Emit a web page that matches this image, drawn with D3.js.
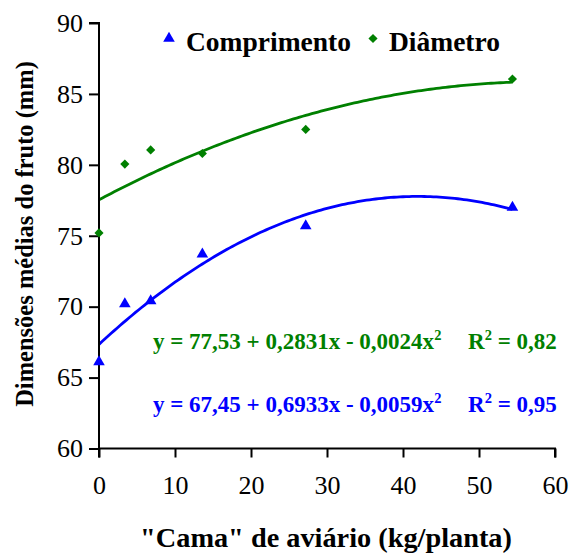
<!DOCTYPE html>
<html><head><meta charset="utf-8">
<script src="https://cdn.jsdelivr.net/npm/d3@7"></script>
</head><body><svg id="c" width="571" height="556"></svg>
<script>
const doses = [0, 3.4, 6.8, 13.6, 27.2, 54.4];
const comprimento = [66.1, 70.2, 70.4, 73.7, 75.7, 77.0];
const diametro = [75.2, 80.05, 81.05, 80.8, 82.5, 86.05];
const xTicks = [0, 10, 20, 30, 40, 50, 60];
const yTicks = [60, 65, 70, 75, 80, 85, 90];
const seriesNames = ["Comprimento", "Diâmetro"];
const eqGreen = ["y = 77,53 + 0,2831x - 0,0024x", "R", " = 0,82"];
const eqBlue = ["y = 67,45 + 0,6933x - 0,0059x", "R", " = 0,95"];

const FONT = "Liberation Serif";
document.body.style.margin = "0";
const svg = d3.select("#c").style("font-family", FONT);
const x = d3.scaleLinear().domain([0, 60]).range([99, 555]);
const y = d3.scaleLinear().domain([60, 90]).range([448.5, 23]);
const BLUE = "#0000ff", GREEN = "#008000";

function quadFit(xs, ys) {
  let S = [0,0,0,0,0], T = [0,0,0];
  xs.forEach((xi, i) => { for (let k=0;k<5;k++) S[k]+=Math.pow(xi,k); for (let k=0;k<3;k++) T[k]+=ys[i]*Math.pow(xi,k); });
  const A = [[S[0],S[1],S[2],T[0]],[S[1],S[2],S[3],T[1]],[S[2],S[3],S[4],T[2]]];
  for (let i=0;i<3;i++){ for (let j=i+1;j<3;j++){ const f=A[j][i]/A[i][i]; for(let k=i;k<4;k++) A[j][k]-=f*A[i][k]; } }
  const c=[0,0,0];
  for (let i=2;i>=0;i--){ let s=A[i][3]; for(let k=i+1;k<3;k++) s-=A[i][k]*c[k]; c[i]=s/A[i][i]; }
  return c;
}
function curve(ys, color) {
  const c = quadFit(doses, ys);
  const pts = d3.range(0, 54.4001, 0.4).map(v => [v, c[0]+c[1]*v+c[2]*v*v]);
  svg.append("path").datum(pts)
    .attr("d", d3.line().x(d => x(d[0])).y(d => y(d[1])))
    .attr("fill", "none").attr("stroke", color).attr("stroke-width", 2.8);
}
curve(diametro, GREEN);
curve(comprimento, BLUE);

const ya = svg.append("g").attr("transform", "translate(99,0)")
  .call(d3.axisLeft(y).tickValues(yTicks).tickSize(10).tickPadding(6).tickFormat(d3.format("d")));
const xa = svg.append("g").attr("transform", "translate(0,448.5)")
  .call(d3.axisBottom(x).tickValues(xTicks).tickSize(9).tickPadding(18).tickFormat(d3.format("d")));
[ya, xa].forEach(g => {
  g.attr("font-family", null).attr("font-size", null);
  g.select(".domain").attr("stroke", "#000").attr("stroke-width", 2);
  g.selectAll(".tick line").attr("stroke", "#000").attr("stroke-width", 2);
  g.selectAll("text").style("font-family", FONT).attr("font-size", 26).attr("fill", "#000");
});
ya.select(".domain").attr("d", "M-0,448.5V23H-10");
xa.select(".domain").attr("d", "M99,9V0H555V9");

const tri = d3.symbol().type(d3.symbolTriangle).size(58);
const sq = d3.symbol().type(d3.symbolSquare).size(42);
svg.append("g").selectAll("path").data(diametro).join("path")
  .attr("d", sq).attr("fill", GREEN)
  .attr("transform", (d, i) => `translate(${x(doses[i])},${y(d)}) rotate(45)`);
svg.append("g").selectAll("path").data(comprimento).join("path")
  .attr("d", tri).attr("fill", BLUE)
  .attr("transform", (d, i) => `translate(${x(doses[i])},${y(d)})`);

function txt(xx, yy, size) {
  return svg.append("text").attr("x", xx).attr("y", yy)
    .style("font-family", FONT).attr("font-size", size).attr("font-weight", "bold");
}
svg.append("path").attr("d", tri).attr("fill", BLUE).attr("transform", "translate(169,38.5)");
svg.append("path").attr("d", sq).attr("fill", GREEN).attr("transform", "translate(373,38.5) rotate(45)");
txt(186, 50.5, 27.5).text(seriesNames[0]);
txt(389, 50.5, 27.5).text(seriesNames[1]);

function eq(parts, yy, color) {
  const t = txt(153, yy, 23).attr("fill", color);
  t.append("tspan").text(parts[0]);
  t.append("tspan").attr("dy", -9).attr("font-size", 14.5).text("2");
  const r = txt(468, yy, 23).attr("fill", color);
  r.append("tspan").text(parts[1]);
  r.append("tspan").attr("dy", -9).attr("font-size", 14.5).text("2");
  r.append("tspan").attr("dy", 9).text(parts[2]);
}
eq(eqGreen, 348.5, GREEN);
eq(eqBlue, 411.5, BLUE);

txt(326, 547, 28.3).attr("text-anchor", "middle").text("\"Cama\" de aviário (kg/planta)");
txt(0, 0, 24.5).attr("transform", "translate(33,234) rotate(-90)").attr("text-anchor", "middle")
  .text("Dimensões médias do fruto (mm)");
</script></body></html>
